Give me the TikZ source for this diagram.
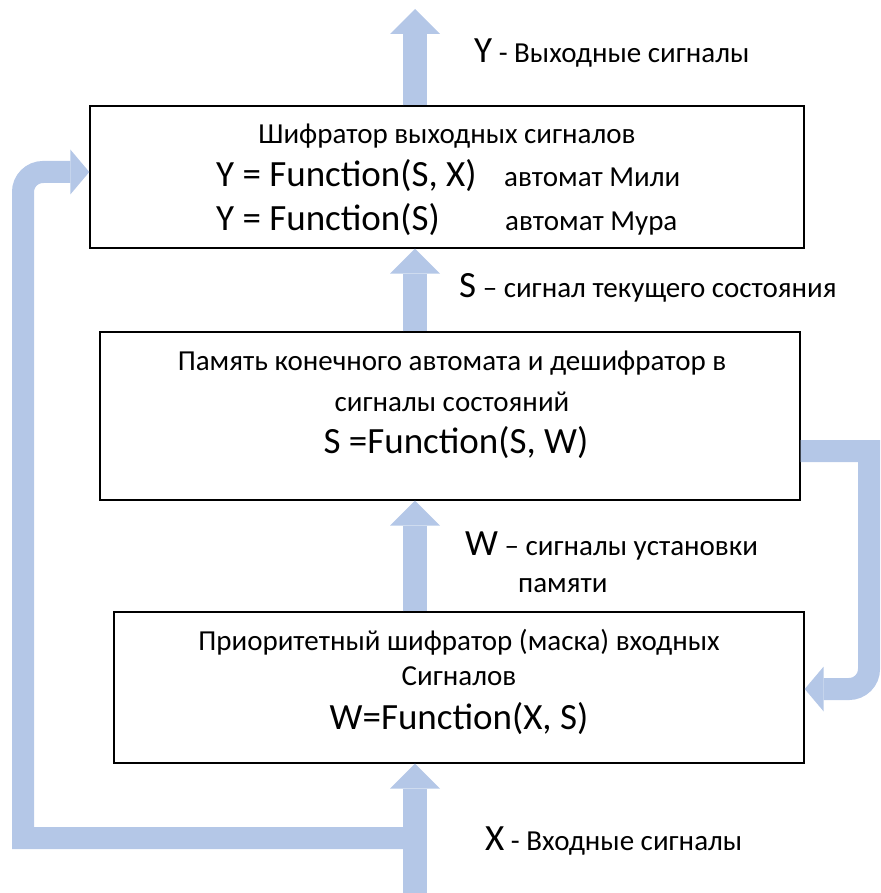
\documentclass[tikz,border=0pt]{standalone}
\usepackage{fontspec}
\setmainfont{Carlito}
\usepackage{xcolor}
\usetikzlibrary{arrows.meta,positioning}
\definecolor{flowblue}{HTML}{B4C7E7}
\newcommand{\fsm}{\fontsize{29}{35}\selectfont}
\newcommand{\fbg}{\fontsize{37}{44}\selectfont}

\begin{document}
\begin{tikzpicture}[
  x=1pt, y=-1pt,
  blk/.style={rectangle, draw=black, line width=1.4pt, fill=white, inner sep=0pt},
  txt/.style={inner sep=0pt, anchor=base, font=\fsm, text=black},
  lft/.style={txt, anchor=base west},
  flow/.style={draw=flowblue, line width=24pt,
               -{Triangle[width=50pt, length=25pt, line width'=0pt]}},
  fback/.style={draw=flowblue, line width=22pt,
               -{Triangle[width=45pt, length=19pt, line width'=0pt]}}
]
\useasboundingbox (0,0) rectangle (880,893);

% blocks
\node[blk, minimum width=714pt, minimum height=142pt] (coder) at (447,177) {};
\node[blk, minimum width=700pt, minimum height=168pt] (mem)   at (450,416) {};
\node[blk, minimum width=690pt, minimum height=151pt] (mask)  at (459,687.5) {};

% signal buses
\coordinate (yout)   at (415,9);
\coordinate (xin)    at (415,893);
\coordinate (xsplit) at (415,838);
\coordinate (ycorner) at (23,838);
\coordinate (ybus)   at (23,172);
\coordinate (sfb)    at (869,451);
\coordinate (sret)   at (869,689);

\draw[flow] (coder.north -| yout) -- (yout);
\draw[flow] (mem.north -| yout) -- (coder.south -| yout);
\draw[flow] (mask.north -| yout) -- (mem.south -| yout);
\draw[flow] (xin) -- (mask.south -| yout);
\draw[fback] (xsplit) -- (ycorner) [rounded corners=20pt] -- (ybus) -- (ybus -| coder.west);
\draw[fback] (sfb -| mem.east) -- (sfb) [rounded corners=20pt] -- (sret) -- (sret -| mask.east);

% texts
\node[lft] (ylab) at (474,63) {{\fbg Y} - Выходные сигналы};
\node[txt] (coderttl) at (447,144) {Шифратор выходных сигналов};
\node[lft, font=\fbg] (mealyf) at (216,187) {Y = Function(S, X)};
\node[lft] (mealyn) at (504,187) {автомат Мили};
\node[lft, font=\fbg] (mooref) at (216,231) {Y = Function(S)};
\node[lft] (mooren) at (505,231) {автомат Мура};

\node[lft] (slab) at (459,297) {{\fbg S} – сигнал текущего состояния};
\node[txt] (memttl) at (452,370) {Память конечного автомата и дешифратор в};
\node[txt] (memttl2) at (452,411) {сигналы состояний};
\node[txt, font=\fbg] (memf) at (456,453) {S =Function(S, W)};

\node[lft] (wlab) at (465,555) {{\fbg W} – сигналы установки};
\node[lft] (wlab2) at (518,592) {памяти};
\node[txt] (maskttl) at (459,650) {Приоритетный шифратор (маска) входных};
\node[txt] (maskttl2) at (459,685) {Сигналов};
\node[txt, font=\fbg] (maskf) at (459,729) {W=Function(X, S)};

\node[lft] (xlab) at (485,850) {{\fbg X} - Входные сигналы};
\end{tikzpicture}
\end{document}
